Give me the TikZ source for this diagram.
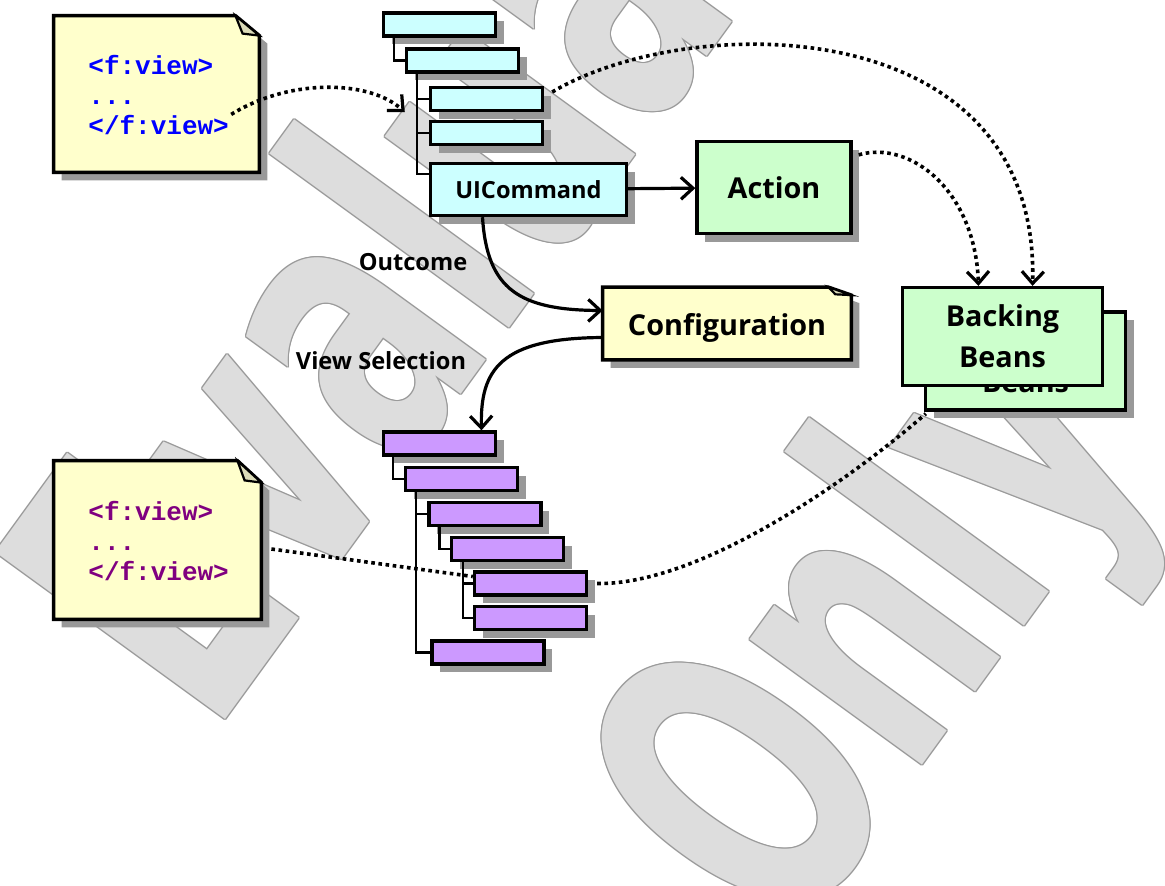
\documentclass[tikz,border=0pt]{standalone}
\usepackage{fontspec}
\setmainfont{Open Sans}
\setmonofont{Liberation Mono}
\newfontfamily\wmfont{DejaVu Sans}
\usetikzlibrary{arrows.meta,shadows}

\definecolor{cmdcyan}{HTML}{CCFFFF}
\definecolor{beangreen}{HTML}{CCFFCC}
\definecolor{noteyellow}{HTML}{FFFFCC}
\definecolor{viewpurple}{HTML}{CC99FF}
\definecolor{shadowgray}{HTML}{999999}
\definecolor{foldgray}{HTML}{DCDCB8}
\definecolor{wmfill}{HTML}{DDDDDD}
\definecolor{wmline}{HTML}{9A9A9A}
\definecolor{tagblue}{HTML}{0000FF}
\definecolor{tagpurple}{HTML}{800080}

\newcommand\bigfont{\fontsize{14.4}{20.5}\selectfont\bfseries}
\newcommand\smallfont{\fontsize{11.8}{14}\selectfont\bfseries}
\newcommand\tagfont{\ttfamily\bfseries\fontsize{13}{15}\selectfont}

\begin{document}
\begin{tikzpicture}[x=0.5pt,y=-0.5pt,>={Straight Barb[length=6pt,width=11pt,line width=1.6pt]},
		line join=miter]
		\tikzstyle{box}=[draw=black,line width=1.7pt,inner sep=0pt]
		\tikzstyle{shadowed}=[drop shadow={shadow xshift=4pt,shadow yshift=-4pt,fill=shadowgray,opacity=1}]
		\tikzstyle{cbox}=[box,shadowed,fill=cmdcyan,minimum width=56pt,minimum height=11.5pt]
		\tikzstyle{pbox}=[box,shadowed,fill=viewpurple,minimum width=56pt,minimum height=11.5pt]
		\tikzstyle{bean}=[box,fill=beangreen,font=\bigfont,align=center,minimum width=100pt,minimum height=49pt]
		\tikzstyle{notebase}=[inner sep=0pt]
		\tikzstyle{tagtext}=[inner sep=0pt,font=\tagfont,anchor=base west]
		\tikzstyle{branch}=[line width=1.2pt]
		\tikzstyle{flow}=[->,line width=1.6pt]
		\tikzstyle{ref}=[->,line width=1.8pt,dash pattern=on 1.8pt off 1.8pt]
		\tikzstyle{wmark}=[inner sep=0pt,font=\wmfont\bfseries\fontsize{195}{195}\selectfont,rotate=54,xscale=0.62,anchor=base west]

		\fill[white] (0,0) rectangle (1165,885);
		\useasboundingbox (0,0) rectangle (1165,885);

		% watermark
		\begin{scope}
		\clip (0,0) rectangle (1165,885);
		\foreach \dx/\dy in {1/0,-1/0,0/1,0/-1,1/1,1/-1,-1/1,-1/-1}{
			\node[wmark,text=wmline] at ([shift={(\dx,\dy)}]212,738) {Evaluation};
			\node[wmark,text=wmline] at ([shift={(\dx,\dy)}]790,948) {Only};
		}
		\node[wmark,text=wmfill] (wmeval) at (212,738) {Evaluation};
		\node[wmark,text=wmfill] (wmonly) at (790,948) {Only};
		\end{scope}

		% notes with folded corner
		\node[notebase,minimum width=102.5pt,minimum height=78pt]	(note1)	at (156.5,94)	{};
		\node[notebase,minimum width=103.5pt,minimum height=79pt]	(note2)	at (157.5,540)	{};
		\node[notebase,minimum width=124pt,minimum height=36pt]	(conf)	at (727,323.5)	{};
		\foreach \n/\fx/\fy in {note1/24/20,note2/24/22,conf/23/8}{
			\fill[shadowgray] ([shift={(8,8)}]\n.north west) -- ([shift={(8-\fx,8)}]\n.north east)
				-- ([shift={(8,8+\fy)}]\n.north east) -- ([shift={(8,8)}]\n.south east)
				-- ([shift={(8,8)}]\n.south west) -- cycle;
			\filldraw[fill=noteyellow,line width=1.7pt] (\n.north west) -- ([shift={(-\fx,0)}]\n.north east)
				-- ([shift={(0,\fy)}]\n.north east) -- (\n.south east) -- (\n.south west) -- cycle;
			\filldraw[fill=foldgray,line width=1.1pt] ([shift={(-\fx,0)}]\n.north east)
				-- ([shift={(-0.7*\fx,0.9*\fy)}]\n.north east) -- ([shift={(0,\fy)}]\n.north east) -- cycle;
		}
		\node[font=\bigfont] (conftext) at ([shift={(0,4)}]conf) {Configuration};

		\node[tagtext,text=tagblue]	(open1)		at (88,74)	{<f:view>};
		\node[tagtext,text=tagblue]	(dots1)		at (88,104)	{...};
		\node[tagtext,text=tagblue]	(close1)	at (88,134)	{</f:view>};
		\node[tagtext,text=tagpurple]	(open2)		at (88,520)	{<f:view>};
		\node[tagtext,text=tagpurple]	(dots2)		at (88,550)	{...};
		\node[tagtext,text=tagpurple]	(close2)	at (88,580)	{</f:view>};

		% component tree of the current view
		\node[cbox]	(c1)	at (439.5,24.5)			{};
		\node[cbox]	(c2)	at ([shift={(23,36)}]c1)	{};
		\node[cbox]	(c3)	at ([shift={(24,38.5)}]c2)	{};
		\node[cbox]	(c4)	at ([shift={(0,34)}]c3)	{};
		\node[cbox,font=\smallfont,minimum width=98pt,minimum height=26pt] (cmd) at (528.5,189.5) {UICommand};
		\draw[branch] ([shift={(12,0)}]c1.south west) |- (c2.west);
		\draw[branch] ([shift={(12,0)}]c2.south west) |- (c3.west)
			([shift={(12,0)}]c2.south west) |- (c4.west)
			([shift={(12,0)}]c2.south west) |- ([shift={(0,12)}]cmd.north west);

		\node[box,shadowed,fill=beangreen,font=\bigfont,minimum width=77pt,minimum height=46pt] (act) at (774,187.5) {Action};

		\node[bean,shadowed]	(beansback)	at (1025.5,361)		{Backing\\Beans};
		\node[bean]		(beans)		at (1002.5,336.5)	{Backing\\Beans};

		% component tree of the next view
		\node[pbox]	(p1)	at (439.5,443.5)		{};
		\node[pbox]	(p2)	at ([shift={(22,35.5)}]p1)	{};
		\node[pbox]	(p3)	at ([shift={(23.5,35)}]p2)	{};
		\node[pbox]	(p4)	at ([shift={(22.5,35)}]p3)	{};
		\node[pbox]	(p5)	at ([shift={(23,34.5)}]p4)	{};
		\node[pbox]	(p6)	at ([shift={(0,34.5)}]p5)	{};
		\node[pbox]	(p7)	at ([shift={(-42.5,34.5)}]p6)	{};
		\draw[branch] ([shift={(11,0)}]p1.south west) |- (p2.west);
		\draw[branch] ([shift={(12,0)}]p2.south west) |- (p3.west)
			([shift={(12,0)}]p2.south west) |- (p7.west);
		\draw[branch] ([shift={(12,0)}]p3.south west) |- (p4.west);
		\draw[branch] ([shift={(13,0)}]p4.south west) |- (p5.west)
			([shift={(13,0)}]p4.south west) |- (p6.west);

		% navigation
		\draw[flow] (cmd) -- (act);
		\draw[flow] ([shift={(-46,0)}]cmd.south) .. controls (487,290) and (520,310) .. ([shift={(0,-13)}]conf.west);
		\node[font=\smallfont] (outcome) at (413,262) {Outcome};
		\draw[flow] ([shift={(0,14)}]conf.west) .. controls (500,338) and (480,370) .. ([shift={(42,0)}]p1.north);
		\node[font=\smallfont] (viewsel) at (381,361) {View Selection};

		% bindings
		\draw[ref] ([shift={(2,0)}]close1.north east) .. controls (290,78) and (370,80) .. ([shift={(-24,0)}]c3.south west);
		\draw[ref] ([shift={(8,-7)}]c3.east) .. controls (690,10) and (1040,10) .. ([shift={(30,0)}]beans.north);
		\draw[ref] ([shift={(6,15)}]act.north east) .. controls (910,140) and (975,190) .. ([shift={(-24,0)}]beans.north);
		\draw[ref,-] ([shift={(10,9)}]note2.east) -- ([shift={(0,-7)}]p5.west);
		\draw[ref,-] ([shift={(9,0)}]p5.east) .. controls (700,585) and (850,480) .. ([shift={(2,2)}]beansback.south west);
\end{tikzpicture}
\end{document}
